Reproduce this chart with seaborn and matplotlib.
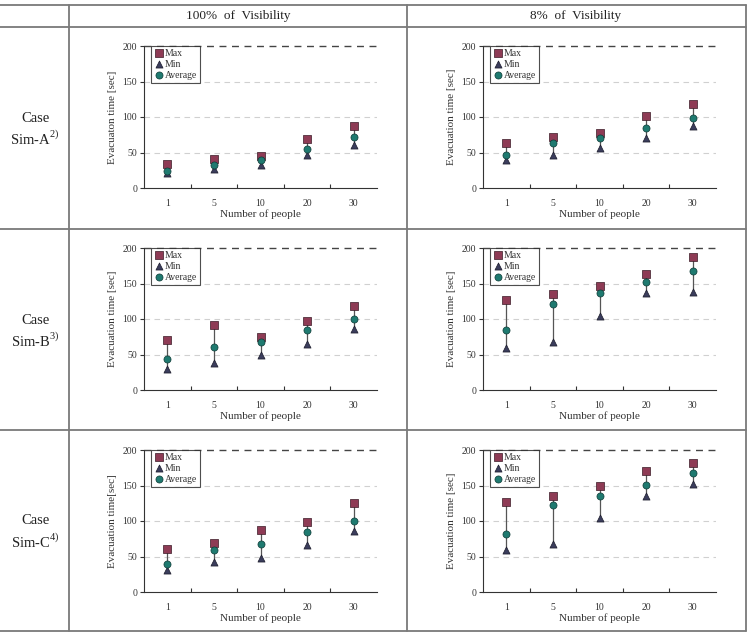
import numpy as np
import pandas as pd
import matplotlib
matplotlib.use('Agg')
import matplotlib.pyplot as plt
import seaborn as sns
from matplotlib.lines import Line2D

# numero de pessoas (eixo x, categorias)
people = ['1', '5', '10', '20', '30']
col_titles = ['100%  of  Visibility', '8%  of  Visibility']
case_names = ['Sim-A', 'Sim-B', 'Sim-C']
case_refs = ['2)', '3)', '4)']

# Sim-A
max_a_100 = [34, 41, 45, 69, 88]
min_a_100 = [21, 27, 33, 46, 61]
avg_a_100 = [24, 33, 40, 55, 72]
max_a_8 = [64, 72, 77, 102, 118]
min_a_8 = [40, 46, 56, 70, 87]
avg_a_8 = [46, 63, 70, 85, 99]

# Sim-B
max_b_100 = [70, 92, 74, 97, 119]
min_b_100 = [30, 38, 49, 65, 86]
avg_b_100 = [44, 60, 68, 85, 100]
max_b_8 = [127, 135, 147, 163, 188]
min_b_8 = [59, 67, 104, 136, 138]
avg_b_8 = [85, 121, 137, 152, 168]

# Sim-C
max_c_100 = [61, 69, 87, 98, 125]
min_c_100 = [31, 42, 48, 66, 86]
avg_c_100 = [40, 59, 68, 85, 100]
max_c_8 = [127, 135, 150, 170, 181]
min_c_8 = [59, 68, 104, 135, 152]
avg_c_8 = [82, 122, 135, 151, 168]

ylabels = [['Evacuaton time [sec]', 'Evacuation time [sec]'],
           ['Evacuation time [sec]', 'Evacuation time [sec]'],
           ['Evacuation time[sec]', 'Evacuation time [sec]']]

dados = [[(max_a_100, min_a_100, avg_a_100), (max_a_8, min_a_8, avg_a_8)],
         [(max_b_100, min_b_100, avg_b_100), (max_b_8, min_b_8, avg_b_8)],
         [(max_c_100, min_c_100, avg_c_100), (max_c_8, min_c_8, avg_c_8)]]

sns.set_style('ticks')
plt.rcParams['font.family'] = ['Liberation Serif', 'DejaVu Serif']
plt.rcParams['mathtext.fontset'] = 'custom'
plt.rcParams['mathtext.rm'] = 'Liberation Serif'

W, H = 750, 633
fig = plt.figure(figsize=(7.5, 6.33), dpi=100)

cor_max = '#8e3b55'
cor_min = '#3b3d5c'
cor_avg = '#1f7a70'

# posicoes das celulas (pixels)
ax_left = [144, 483]
ax_bottom = [188, 390, 592]
ax_w, ax_h = 233, 142

x = np.arange(len(people))

for i in range(3):
    for j in range(2):
        mx, mn, av = dados[i][j]
        ax = fig.add_axes([ax_left[j] / W, 1 - ax_bottom[i] / H, ax_w / W, ax_h / H])

        # grade tracejada
        for yv in [50, 100, 150]:
            ax.axhline(yv, color='#d0d0d0', lw=0.8, ls=(0, (5, 4)), zorder=0)
        ax.axhline(200, color='#444444', lw=1.0, ls=(0, (5, 4)), zorder=0, clip_on=False)

        ax.vlines(x, mn, mx, color='#555555', lw=0.9, zorder=1)
        sns.scatterplot(x=x, y=mx, marker='s', color=cor_max, edgecolor='#3a1a25', s=26,
                        linewidth=0.5, ax=ax, label='Max', zorder=3)
        sns.scatterplot(x=x, y=mn, marker='^', color=cor_min, edgecolor='#1a1a2a', s=26,
                        linewidth=0.5, ax=ax, label='Min', zorder=2)
        sns.scatterplot(x=x, y=av, marker='o', color=cor_avg, edgecolor='#0d3a35', s=26,
                        linewidth=0.5, ax=ax, label='Average', zorder=4)

        ax.set_xlim(-0.5, 4.5)
        ax.set_ylim(0, 200)
        ax.set_yticks([0, 50, 100, 150, 200])
        ax.set_xticks(x)
        ax.set_xticklabels(people)
        ax.set_xticks([0.5, 1.5, 2.5, 3.5], minor=True)
        ax.tick_params(axis='x', which='major', length=0, pad=8, labelsize=7, colors='#333333')
        ax.tick_params(axis='x', which='minor', direction='in', length=3, width=0.8, color='#333333')
        ax.tick_params(axis='y', direction='out', length=3, width=0.8, labelsize=7,
                       colors='#333333', pad=2)
        ax.set_xlabel('Number of people', fontsize=8, labelpad=1, color='#333333')
        ax.set_ylabel(ylabels[i][j], fontsize=8, labelpad=4, color='#333333')
        sns.despine(ax=ax)
        ax.spines['left'].set_color('#333333')
        ax.spines['bottom'].set_color('#333333')

        leg = ax.legend(loc='upper left', bbox_to_anchor=(0.03, 1.0), borderaxespad=0,
                        fontsize=7, frameon=True, fancybox=False, handletextpad=0.1,
                        handlelength=1.0, borderpad=0.3, labelspacing=0.2)
        leg.get_frame().set_edgecolor('#222222')
        leg.get_frame().set_linewidth(0.8)
        for t in leg.get_texts():
            t.set_color('#333333')

# linhas da tabela
cor_linha = '#7a7a7a'
def hline(y, x0=0, x1=746):
    fig.add_artist(Line2D([x0 / W, x1 / W], [1 - y / H, 1 - y / H], color=cor_linha, lw=1.3))
def vline(xp, y0, y1):
    fig.add_artist(Line2D([xp / W, xp / W], [1 - y0 / H, 1 - y1 / H], color=cor_linha, lw=1.3))

for yy in [5, 27, 229, 430, 631]:
    hline(yy)
for xx in [69, 407, 746]:
    vline(xx, 5, 631)

# cabecalho
fig.text(238 / W, 1 - 16 / H, col_titles[0], ha='center', va='center', fontsize=9.5, color='#222222')
fig.text(576 / W, 1 - 16 / H, col_titles[1], ha='center', va='center', fontsize=9.5, color='#222222')

# nomes dos casos
centros = [128, 330, 531]
for k in range(3):
    fig.text(35 / W, 1 - (centros[k] - 10) / H, 'Case', ha='center', va='center', fontsize=10.5, color='#222222')
    fig.text(35 / W, 1 - (centros[k] + 10) / H, case_names[k] + r'$^{\mathrm{' + case_refs[k] + '}}$',
             ha='center', va='center', fontsize=10.5, color='#222222')

plt.savefig('out.png', dpi=100)
